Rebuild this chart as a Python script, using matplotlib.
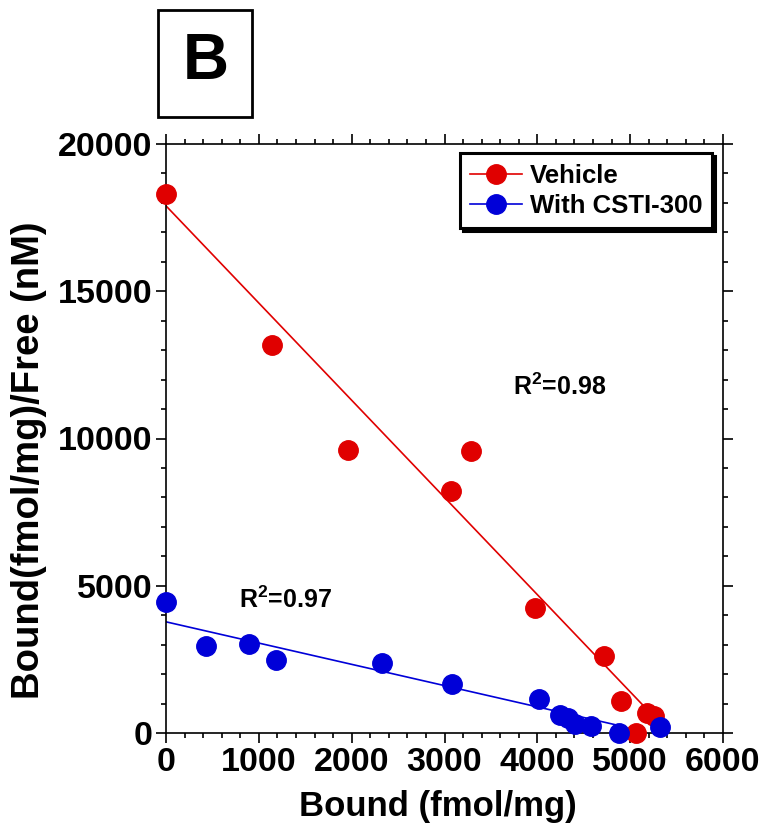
import matplotlib
matplotlib.use("Agg")
import matplotlib.pyplot as plt
import numpy as np
from matplotlib.patches import Rectangle
from matplotlib.ticker import MultipleLocator

plt.rcParams['font.family'] = ['Liberation Sans', 'DejaVu Sans']
plt.rcParams['font.weight'] = 'bold'
plt.rcParams['mathtext.fontset'] = 'custom'
plt.rcParams['mathtext.rm'] = 'Liberation Sans:bold'
plt.rcParams['mathtext.bf'] = 'Liberation Sans:bold'
plt.rcParams['mathtext.it'] = 'Liberation Sans:bold'

# Data (Scatchard plot)
vehicle_bound = [0, 1142, 1961, 3071, 3287, 3976, 4720, 4903, 5183, 5259, 5065]
vehicle_ratio = [18300, 13160, 9625, 8230, 9560, 4230, 2620, 1090, 680, 580, 0]
csti_bound = [0, 431, 895, 1185, 2328, 3082, 4019, 4246, 4332, 4407, 4580, 4881, 5323]
csti_ratio = [4450, 2960, 3030, 2480, 2380, 1670, 1160, 610, 510, 310, 240, 0, 200]

# Fit lines
vehicle_fit_x = [0, 5260]
vehicle_fit_y = [17900, 540]
csti_fit_x = [0, 4890]
csti_fit_y = [3775, 245]

r2_vehicle = "R$^{2}$=0.98"
r2_csti = "R$^{2}$=0.97"

fig = plt.figure(figsize=(7.76, 8.32), dpi=100)
ax = fig.add_axes([166/776, 1-733/832, (723-166)/776, (733-144)/832])

red = '#e00000'
blue = '#0000d8'

ax.plot(vehicle_fit_x, vehicle_fit_y, color=red, lw=1.2, zorder=2)
ax.plot(csti_fit_x, csti_fit_y, color=blue, lw=1.2, zorder=2)
ax.plot(vehicle_bound, vehicle_ratio, 'o', color=red, ms=14, mec=red, zorder=3, clip_on=False)
ax.plot(csti_bound, csti_ratio, 'o', color=blue, ms=14, mec=blue, zorder=4, clip_on=False)

# legend proxies
h1, = ax.plot([], [], '-o', color=red, ms=14, lw=1.2)
h2, = ax.plot([], [], '-o', color=blue, ms=14, lw=1.2)
leg = ax.legend([h1, h2], ['Vehicle', 'With CSTI-300'], loc='upper right',
                bbox_to_anchor=(0.99, 0.993), fontsize=18.5, frameon=True, fancybox=False,
                shadow={'color': 'black', 'alpha': 1}, handlelength=2.0,
                handletextpad=0.3, borderpad=0.4, labelspacing=0.25,
                borderaxespad=0.2)
leg.get_frame().set_edgecolor('black')
leg.get_frame().set_linewidth(2.2)
leg.get_frame().set_alpha(1)

ax.text(4245, 11770, r2_vehicle, fontsize=18, fontweight='bold', ha='center', va='center')
ax.text(1282, 4520, r2_csti, fontsize=18, fontweight='bold', ha='center', va='center')

ax.set_xlim(0, 6000)
ax.set_ylim(0, 20000)
ax.xaxis.set_major_locator(MultipleLocator(1000))
ax.xaxis.set_minor_locator(MultipleLocator(200))
ax.yaxis.set_major_locator(MultipleLocator(5000))
ax.yaxis.set_minor_locator(MultipleLocator(1000))
ax.tick_params(which='both', direction='out', top=True, right=True, width=1.2)
ax.tick_params(which='major', length=7, labelsize=24.5, pad=3)
ax.tick_params(which='minor', length=3.5)
for lab in ax.get_xticklabels() + ax.get_yticklabels():
    lab.set_fontweight('bold')
for s in ax.spines.values():
    s.set_linewidth(1.2)

ax.set_xlabel('Bound (fmol/mg)', fontsize=25, fontweight='bold')
ax.set_ylabel('Bound(fmol/mg)/Free (nM)', fontsize=27.5, fontweight='bold')
ax.xaxis.set_label_coords(0.488, -0.097)
ax.yaxis.set_label_coords(-0.214, 0.4635)

# Panel label box
fig.patches.append(Rectangle((158/776, 1-117/832), 94/776, 107/832, transform=fig.transFigure,
                             fill=False, edgecolor='black', lw=2.0))
fig.text(206/776, 1-62/832, 'B', fontsize=46, fontweight='bold', ha='center', va='center')

fig.savefig('out.png', dpi=100)
